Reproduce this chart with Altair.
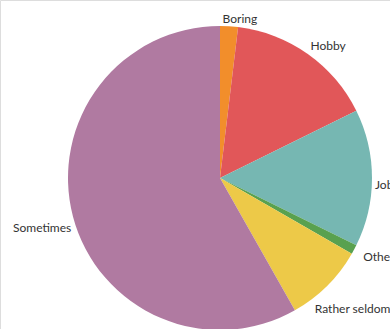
import altair as alt
import pandas as pd

categories = ["Boring", "Hobby", "Job", "Other", "Rather seldom", "Sometimes"]
shares = [1.9, 15.8, 14.6, 1.0, 8.5, 58.2]
colors = ["#f28e2b", "#e15759", "#76b7b2", "#59a14f", "#edc948", "#b07aa1"]

df = pd.DataFrame({"category": categories, "share": shares, "idx": list(range(len(categories)))})

CX, CY, R = 220, 178, 152

theta_scale = alt.Scale(domain=[0, 100])

base = alt.Chart(df).transform_window(
    end="sum(share)", sort=[alt.SortField("idx")], frame=[None, 0]
).transform_calculate(
    start="datum.end - datum.share",
    mid="datum.end - datum.share / 2",
).encode(
    x=alt.value(CX),
    y=alt.value(CY),
)

arcs = base.mark_arc(radius=R, stroke=None).encode(
    theta=alt.Theta("start:Q", scale=theta_scale, stack=None),
    theta2="end:Q",
    color=alt.Color("category:N", scale=alt.Scale(domain=categories, range=colors), legend=None),
)

# per-label nudges (styling only)
nudges = {
    "Boring": (-7, 1, "left"),
    "Hobby": (-2, -1, "left"),
    "Job": (-5, 7, "left"),
    "Other": (2, 4, "left"),
    "Rather seldom": (-18, 18, "left"),
    "Sometimes": (6, 9, "right"),
}

layers = [arcs]
for cat, (dx, dy, al) in nudges.items():
    layers.append(
        base.transform_filter(alt.datum.category == cat)
        .mark_text(radius=160, align=al, baseline="middle", dx=dx, dy=dy,
                   font="Lato", fontSize=12, color="#333333")
        .encode(theta=alt.Theta("mid:Q", scale=theta_scale, stack=None), text="category:N")
    )

chart = alt.layer(*layers).properties(
    width=390, height=329, autosize=alt.AutoSizeParams(type="none"), padding=0
).configure_view(stroke=None).configure(background="white")

chart.save("out.html", embed_options={"renderer": "svg", "actions": False})
